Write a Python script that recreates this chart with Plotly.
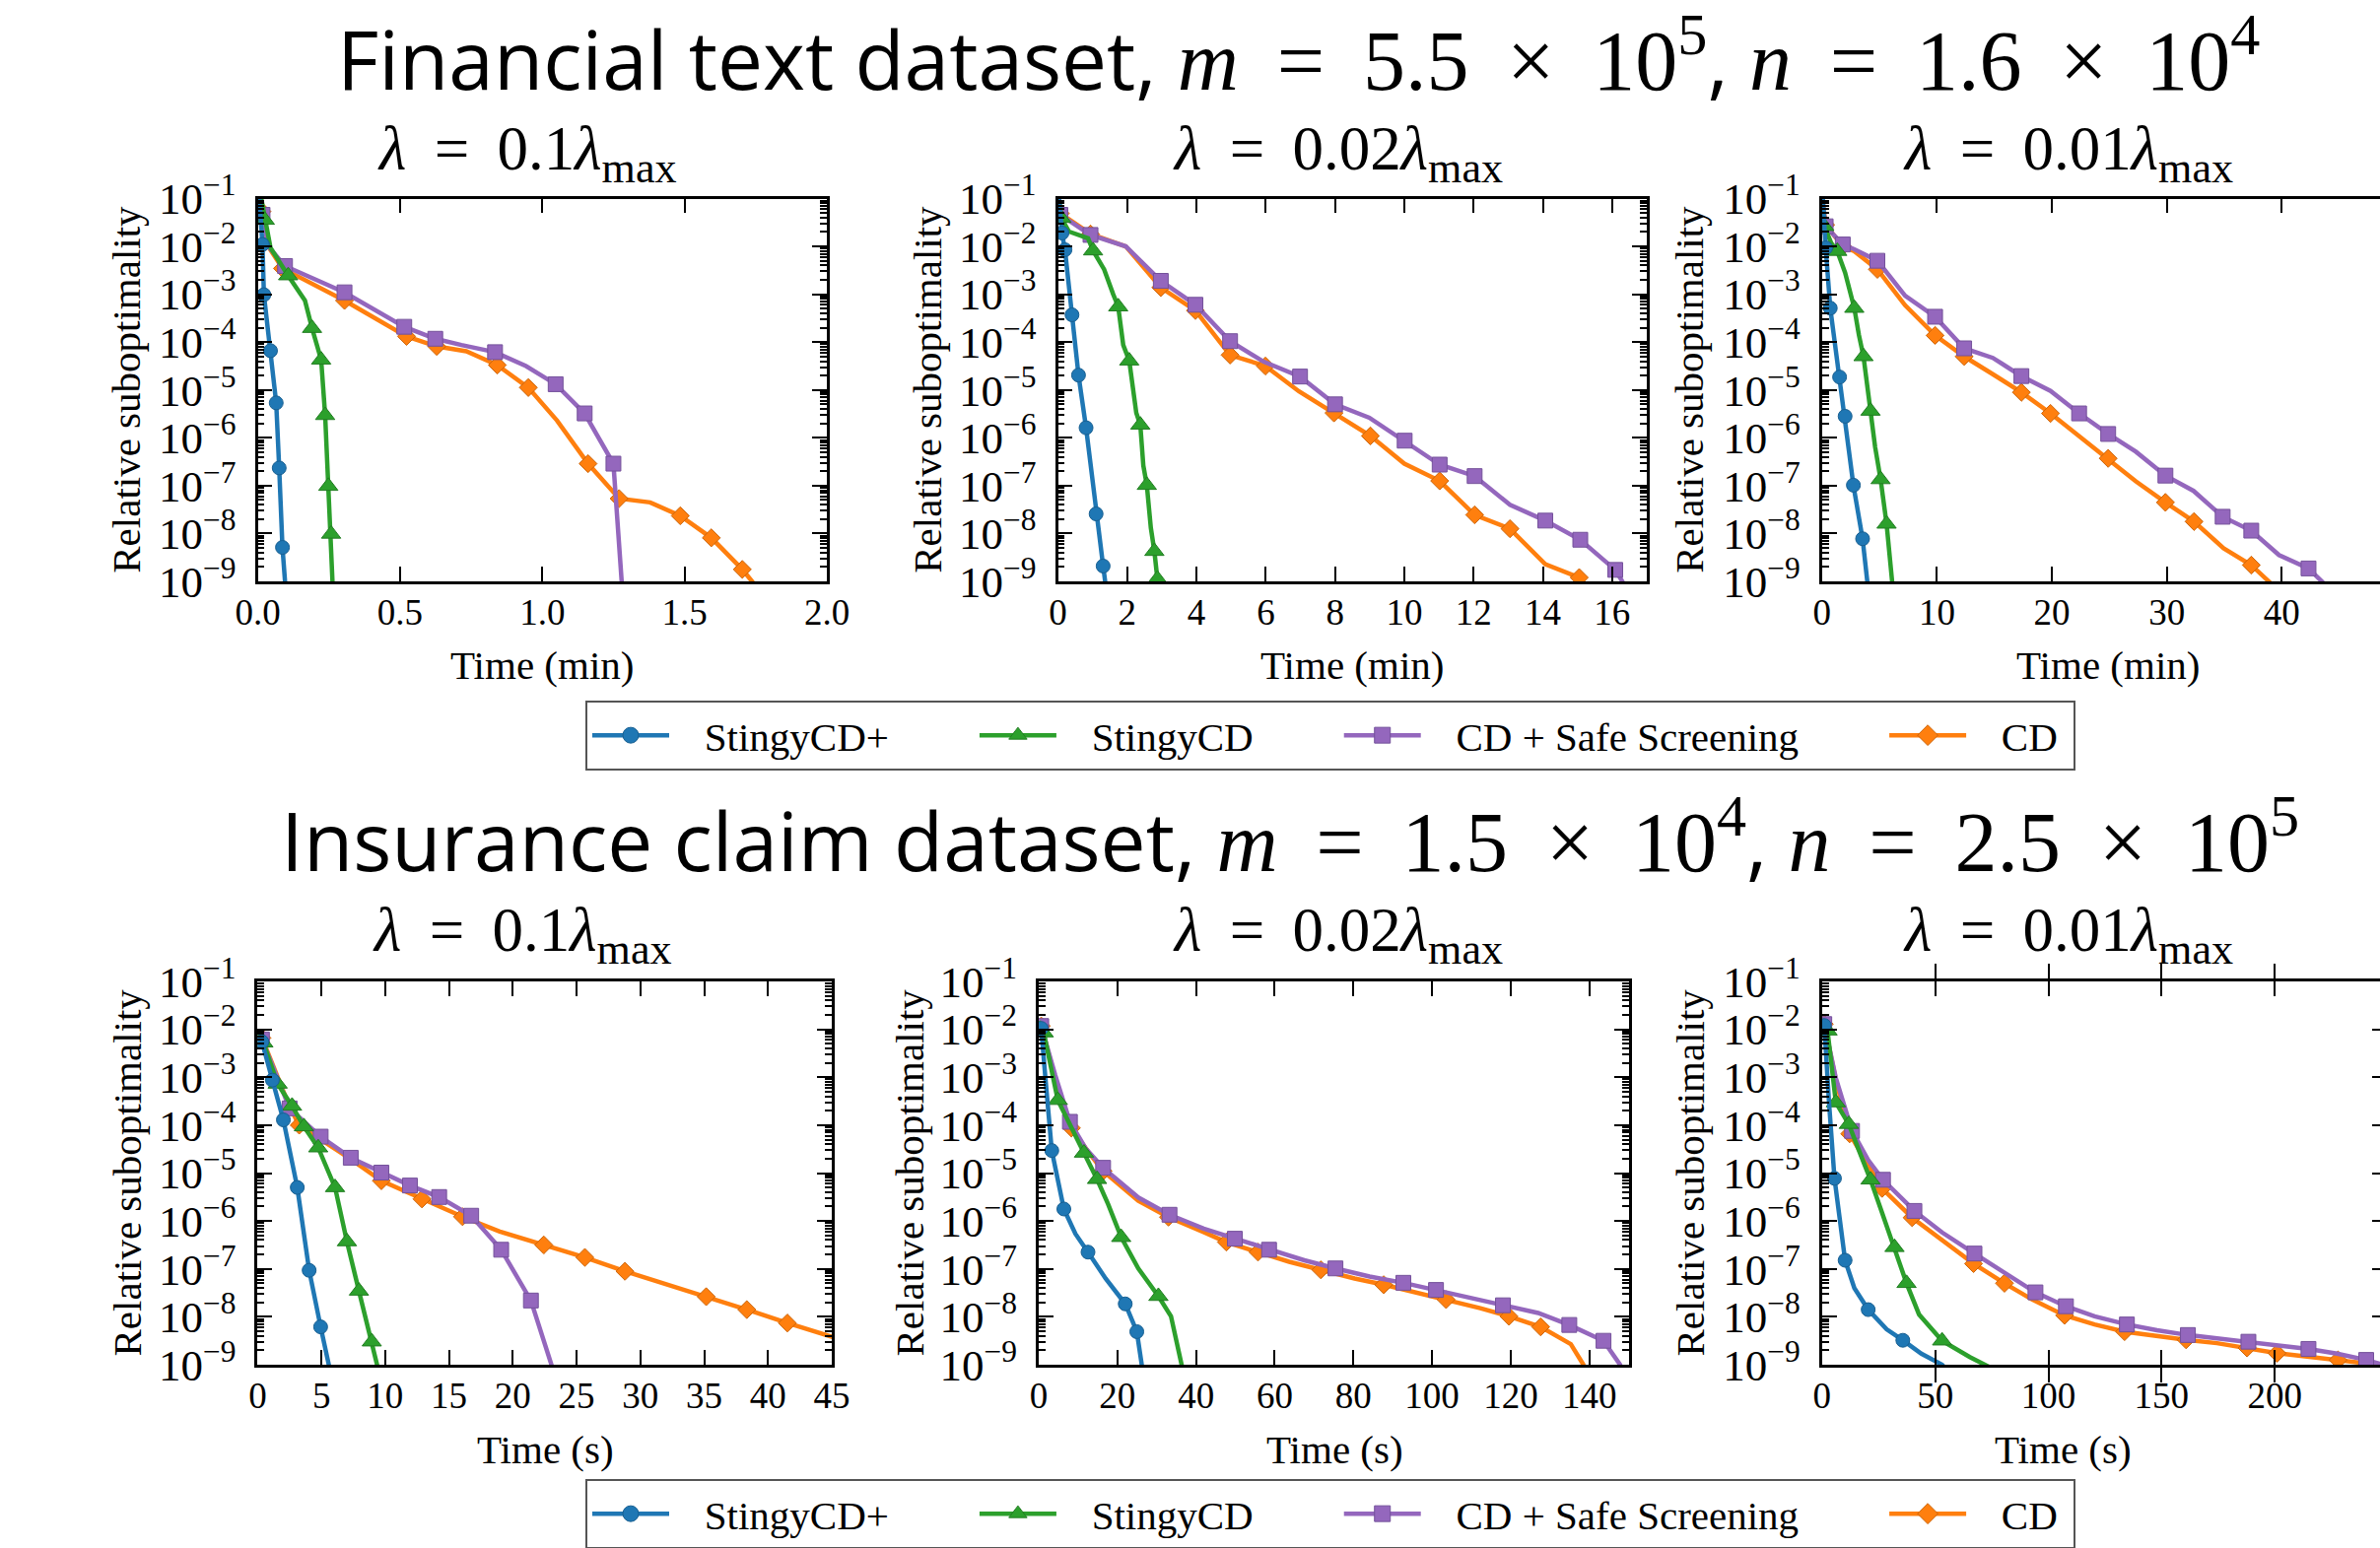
import plotly.graph_objects as go

# ---------------- data: log10(relative suboptimality) vs time ----------------
# panel keys: fa/fb/fc = Financial text (lambda 0.1/0.02/0.01), ia/ib/ic = Insurance claim
# methods: sp = StingyCD+, sc = StingyCD, ss = CD + Safe Screening, cd = CD
# *_mk = indices of the points that carry a marker

fa_sp_t = [0.0, 0.0168, 0.0218, 0.045, 0.065, 0.0755, 0.087, 0.096, 0.098]
fa_sp_y = [-0.5, -1.96, -3.01, -4.18, -5.27, -6.63, -8.29, -9.0, -9.3]
fa_sp_mk = [1, 2, 3, 4, 5, 6]
fa_sc_t = [0.0, 0.025, 0.045, 0.107, 0.166, 0.191, 0.213, 0.223, 0.237, 0.248, 0.258, 0.263, 0.265]
fa_sc_y = [-0.6, -1.45, -2.03, -2.61, -3.13, -3.71, -4.13, -4.37, -5.53, -7.01, -8.01, -9.0, -9.3]
fa_sc_mk = [1, 3, 5, 7, 8, 9, 10]
fa_ss_t = [0.0, 0.017, 0.037, 0.096, 0.305, 0.515, 0.624, 0.716, 0.834, 0.943, 1.047, 1.149, 1.250, 1.279, 1.283]
fa_ss_y = [-0.7, -1.34, -2.0, -2.41, -2.96, -3.68, -3.93, -4.06, -4.21, -4.50, -4.88, -5.49, -6.54, -9.0, -9.4]
fa_ss_mk = [1, 3, 4, 5, 6, 8, 10, 11, 12]
fa_cd_t = [0.0, 0.015, 0.037, 0.087, 0.305, 0.523, 0.629, 0.733, 0.842, 0.951, 1.052, 1.161, 1.270, 1.379, 1.485, 1.594, 1.703, 1.737, 1.75]
fa_cd_y = [-0.7, -1.27, -2.0, -2.46, -3.13, -3.88, -4.09, -4.19, -4.48, -4.95, -5.64, -6.54, -7.27, -7.35, -7.63, -8.09, -8.75, -9.0, -9.1]
fa_cd_mk = [1, 3, 4, 5, 6, 8, 9, 11, 12, 14, 15, 16]

fb_sp_t = [0.0, 0.116, 0.203, 0.406, 0.594, 0.812, 1.102, 1.305, 1.363, 1.375]
fb_sp_y = [-0.7, -1.72, -2.07, -3.43, -4.69, -5.79, -7.59, -8.68, -9.0, -9.1]
fb_sp_mk = [1, 2, 3, 4, 5, 6, 7]
fb_sc_t = [0.0, 0.10, 0.32, 0.87, 1.015, 1.334, 1.595, 1.74, 1.885, 2.059, 2.262, 2.378, 2.465, 2.566, 2.682, 2.784, 2.871, 2.90]
fb_sc_y = [-0.8, -1.41, -1.69, -1.83, -2.09, -2.48, -3.0, -3.26, -4.06, -4.39, -5.48, -5.73, -6.58, -6.99, -7.88, -8.37, -8.95, -9.06]
fb_sc_mk = [1, 4, 7, 9, 11, 13, 15, 16]
fb_ss_t = [0.0, 0.07, 0.94, 1.96, 2.97, 3.97, 4.97, 5.94, 6.99, 8.00, 8.99, 10.01, 11.02, 12.03, 13.05, 14.07, 15.08, 16.09, 16.31, 16.4]
fb_ss_y = [-0.9, -1.34, -1.76, -2.0, -2.72, -3.22, -3.98, -4.41, -4.72, -5.30, -5.58, -6.06, -6.56, -6.80, -7.40, -7.73, -8.13, -8.76, -9.02, -9.2]
fb_ss_mk = [1, 2, 4, 5, 6, 8, 9, 11, 12, 13, 15, 16, 17]
fb_cd_t = [0.0, 0.07, 0.94, 1.96, 2.97, 3.97, 4.97, 5.99, 6.96, 7.97, 9.02, 10.0, 11.02, 12.03, 13.05, 14.07, 15.05, 15.22]
fb_cd_y = [-0.9, -1.31, -1.74, -2.0, -2.86, -3.34, -4.27, -4.50, -5.03, -5.48, -5.96, -6.54, -6.90, -7.61, -7.90, -8.64, -8.92, -9.06]
fb_cd_mk = [1, 2, 4, 5, 6, 7, 9, 10, 12, 13, 14, 16]

fc_sp_t = [0.0, 0.32, 0.72, 1.20, 1.53, 2.01, 2.33, 2.73, 3.53, 3.94, 3.98]
fc_sp_y = [-0.7, -2.03, -3.29, -4.13, -4.73, -5.55, -6.25, -6.99, -8.11, -9.0, -9.1]
fc_sp_mk = [1, 2, 4, 5, 7, 8]
fc_sc_t = [0.0, 0.20, 0.80, 1.33, 2.01, 2.41, 2.81, 3.21, 3.61, 4.22, 4.62, 5.10, 5.62, 6.10, 6.14]
fc_sc_y = [-0.9, -1.58, -1.93, -2.10, -2.55, -2.96, -3.29, -3.85, -4.30, -5.44, -6.19, -6.87, -7.80, -9.0, -9.1]
fc_sc_mk = [1, 3, 6, 8, 9, 11, 12]
fc_ss_t = [0.0, 0.32, 1.81, 2.81, 4.82, 7.23, 9.84, 12.37, 14.86, 17.35, 19.88, 22.37, 24.90, 27.31, 29.88, 32.33, 34.86, 37.35, 39.76, 42.33, 43.57, 43.8]
fc_ss_y = [-0.95, -1.58, -1.96, -2.06, -2.30, -3.03, -3.47, -4.13, -4.33, -4.71, -5.02, -5.49, -5.92, -6.29, -6.79, -7.11, -7.65, -7.94, -8.45, -8.73, -9.02, -9.1]
fc_ss_mk = [1, 2, 4, 6, 7, 9, 11, 12, 14, 16, 17, 19]
fc_cd_t = [0.0, 0.32, 1.81, 2.81, 4.82, 7.23, 9.84, 12.37, 14.86, 17.35, 19.88, 22.49, 24.90, 27.31, 29.88, 32.37, 34.94, 37.35, 38.96, 39.1]
fc_cd_y = [-0.95, -1.55, -2.0, -2.10, -2.48, -3.23, -3.86, -4.30, -4.67, -5.05, -5.49, -5.98, -6.43, -6.91, -7.35, -7.75, -8.31, -8.66, -9.02, -9.1]
fc_cd_mk = [1, 2, 4, 6, 7, 9, 10, 12, 14, 15, 17]

ia_sp_t = [0.0, 0.34, 1.16, 2.02, 3.11, 4.04, 4.94, 5.62, 5.7]
ia_sp_y = [-2.14, -2.26, -3.06, -3.89, -5.30, -7.03, -8.21, -9.0, -9.15]
ia_sp_mk = [1, 2, 3, 4, 5, 6]
ia_sc_t = [0.0, 0.45, 1.57, 2.70, 3.63, 4.75, 6.07, 7.0, 7.94, 8.95, 9.43, 9.5]
ia_sc_y = [-2.08, -2.28, -3.14, -3.60, -4.03, -4.47, -5.30, -6.43, -7.46, -8.52, -9.0, -9.15]
ia_sc_mk = [1, 2, 3, 4, 5, 6, 7, 8, 9]
ia_ss_t = [0.0, 0.34, 2.51, 4.94, 7.30, 9.70, 11.94, 14.23, 16.74, 19.09, 21.42, 23.03, 23.1]
ia_ss_y = [-2.04, -2.21, -3.65, -4.24, -4.68, -4.99, -5.26, -5.50, -5.89, -6.60, -7.66, -9.0, -9.1]
ia_ss_mk = [1, 2, 3, 4, 5, 6, 7, 8, 9, 10]
ia_cd_t = [0.0, 0.34, 2.51, 3.26, 4.94, 7.30, 9.70, 12.88, 16.06, 18.98, 22.43, 25.65, 28.79, 32.09, 35.16, 38.34, 41.52, 45.0, 46.0]
ia_cd_y = [-2.04, -2.18, -3.62, -4.0, -4.30, -4.71, -5.16, -5.54, -5.91, -6.22, -6.50, -6.76, -7.05, -7.32, -7.58, -7.85, -8.13, -8.42, -8.5]
ia_cd_mk = [1, 3, 6, 7, 8, 10, 11, 12, 14, 15, 16]

ib_sp_t = [0.0, 0.64, 1.79, 3.32, 6.39, 9.34, 12.53, 17.0, 22.0, 24.94, 26.2, 26.4]
ib_sp_y = [-1.86, -1.98, -3.10, -4.53, -5.75, -6.27, -6.65, -7.20, -7.73, -8.31, -9.0, -9.1]
ib_sp_mk = [1, 3, 4, 6, 8, 9]
ib_sc_t = [0.0, 1.28, 4.86, 11.51, 14.83, 17.65, 20.97, 25.32, 30.43, 33.63, 36.45, 36.6]
ib_sc_y = [-1.83, -2.07, -3.48, -4.58, -5.13, -5.65, -6.34, -6.99, -7.57, -7.99, -9.0, -9.1]
ib_sc_mk = [1, 2, 3, 4, 6, 8]
ib_ss_t = [0.0, 0.64, 4.22, 7.93, 11.89, 16.37, 25.32, 33.25, 41.94, 49.87, 58.57, 67.52, 75.45, 84.14, 92.71, 101.02, 109.72, 118.03, 126.98, 134.91, 143.61, 147.83, 148.2]
ib_ss_y = [-1.83, -1.93, -2.96, -3.93, -4.48, -4.89, -5.51, -5.87, -6.16, -6.37, -6.60, -6.82, -6.99, -7.16, -7.29, -7.44, -7.61, -7.76, -7.92, -8.17, -8.50, -9.0, -9.1]
ib_ss_mk = [1, 3, 5, 7, 9, 10, 12, 14, 15, 17, 19, 20]
ib_cd_t = [0.0, 0.64, 4.22, 8.31, 12.53, 16.37, 25.32, 32.99, 41.94, 47.70, 55.75, 63.68, 71.74, 80.31, 87.72, 95.65, 103.58, 112.28, 119.57, 127.62, 135.29, 138.49, 138.8]
ib_cd_y = [-1.83, -1.93, -3.03, -4.06, -4.55, -4.96, -5.58, -5.92, -6.23, -6.44, -6.65, -6.85, -7.02, -7.20, -7.33, -7.49, -7.64, -7.82, -7.99, -8.21, -8.57, -9.0, -9.1]
ib_cd_mk = [1, 3, 5, 7, 9, 10, 12, 14, 16, 18, 19]

ic_sp_t = [0.0, 1.02, 3.06, 5.51, 10.2, 14.29, 20.41, 28.57, 35.71, 43.88, 53.06, 54.0]
ic_sp_y = [-1.82, -1.92, -3.50, -5.11, -6.82, -7.40, -7.85, -8.26, -8.49, -8.77, -9.0, -9.05]
ic_sp_mk = [1, 3, 4, 6, 8]
ic_sc_t = [0.0, 2.45, 6.12, 11.84, 16.33, 21.43, 26.53, 32.04, 37.35, 42.86, 48.98, 53.06, 65.31, 72.45, 74.0]
ic_sc_y = [-1.79, -2.03, -3.53, -3.98, -4.53, -5.14, -5.83, -6.55, -7.30, -7.95, -8.26, -8.50, -8.84, -9.0, -9.05]
ic_sc_mk = [1, 2, 3, 5, 7, 8, 11]
ic_ss_t = [0.0, 1.02, 6.12, 13.27, 20.41, 26.94, 40.82, 53.06, 67.35, 81.63, 94.29, 107.76, 120.41, 134.69, 147.96, 161.63, 174.49, 188.37, 202.04, 214.9, 227.55, 240.41, 255.0]
ic_ss_y = [-1.82, -1.89, -3.02, -4.12, -4.73, -5.14, -5.79, -6.24, -6.68, -7.10, -7.49, -7.78, -7.99, -8.16, -8.28, -8.38, -8.45, -8.52, -8.60, -8.67, -8.77, -8.90, -9.1]
ic_ss_mk = [1, 3, 5, 6, 8, 10, 11, 13, 15, 17, 19, 21]
ic_cd_t = [0.0, 1.02, 6.12, 12.24, 20.41, 26.53, 39.80, 53.06, 66.94, 80.61, 92.86, 107.14, 120.41, 133.67, 146.94, 160.82, 174.49, 187.76, 201.02, 214.29, 227.96, 240.82, 255.0]
ic_cd_y = [-1.82, -1.89, -3.05, -4.18, -4.84, -5.32, -5.93, -6.41, -6.89, -7.30, -7.64, -7.97, -8.16, -8.31, -8.40, -8.48, -8.55, -8.65, -8.76, -8.83, -8.90, -8.95, -9.05]
ic_cd_mk = [1, 3, 5, 6, 8, 9, 11, 13, 15, 17, 18, 20]

method_names = ["StingyCD+", "StingyCD", "CD + Safe Screening", "CD"]
panel_titles = ["0.1", "0.02", "0.01", "0.1", "0.02", "0.01"]
x_titles = ["Time (min)"] * 3 + ["Time (s)"] * 3

# ---------------- styling ----------------
COLORS = ["#1f77b4", "#2ca02c", "#9467bd", "#ff7f0e"]
EDGES = ["#185f91", "#227d22", "#74519a", "#cc650b"]
SYMBOLS = ["circle", "triangle-up", "square", "diamond"]
MSIZES = [14, 17, 15, 14]
LW = 4.5
SERIF = "Liberation Serif"
NB = "\u00a0"
TS = "\u2009"

panels = [
    [(fa_sp_t, fa_sp_y, fa_sp_mk), (fa_sc_t, fa_sc_y, fa_sc_mk), (fa_ss_t, fa_ss_y, fa_ss_mk), (fa_cd_t, fa_cd_y, fa_cd_mk)],
    [(fb_sp_t, fb_sp_y, fb_sp_mk), (fb_sc_t, fb_sc_y, fb_sc_mk), (fb_ss_t, fb_ss_y, fb_ss_mk), (fb_cd_t, fb_cd_y, fb_cd_mk)],
    [(fc_sp_t, fc_sp_y, fc_sp_mk), (fc_sc_t, fc_sc_y, fc_sc_mk), (fc_ss_t, fc_ss_y, fc_ss_mk), (fc_cd_t, fc_cd_y, fc_cd_mk)],
    [(ia_sp_t, ia_sp_y, ia_sp_mk), (ia_sc_t, ia_sc_y, ia_sc_mk), (ia_ss_t, ia_ss_y, ia_ss_mk), (ia_cd_t, ia_cd_y, ia_cd_mk)],
    [(ib_sp_t, ib_sp_y, ib_sp_mk), (ib_sc_t, ib_sc_y, ib_sc_mk), (ib_ss_t, ib_ss_y, ib_ss_mk), (ib_cd_t, ib_cd_y, ib_cd_mk)],
    [(ic_sp_t, ic_sp_y, ic_sp_mk), (ic_sc_t, ic_sc_y, ic_sc_mk), (ic_ss_t, ic_ss_y, ic_ss_mk), (ic_cd_t, ic_cd_y, ic_cd_mk)],
]

W, H = 2415, 1571
# pixel boxes of each axes (left, right, top, bottom)
boxes = [
    (261.5, 839.0, 201.5, 590.0),
    (1073.5, 1671.0, 201.5, 590.0),
    (1848.8, 2415.0, 201.5, 590.0),
    (261.4, 844.0, 996.0, 1385.0),
    (1054.0, 1652.6, 996.0, 1385.0),
    (1848.8, 2415.0, 996.0, 1385.0),
]
x_ranges = [[0, 2.0], [0, 17], [0, 48.55], [0, 45], [0, 150], [0, 246.5]]
x_dticks = [0.5, 2, 10, 5, 20, 50]
x_formats = [".1f", "d", "d", "d", "d", "d"]

fig = go.Figure()

# legend entries (in legend order)
for lg, xa, ya in [("legend", "x", "y"), ("legend2", "x4", "y4")]:
    for m in range(4):
        label = NB * 3 + method_names[m] + (NB * 8 if m < 3 else NB)
        fig.add_trace(go.Scatter(
            x=[None], y=[None], mode="lines+markers", name=label,
            line=dict(color=COLORS[m], width=LW),
            marker=dict(symbol=SYMBOLS[m], size=MSIZES[m] + 2, color=COLORS[m],
                        line=dict(color=EDGES[m], width=1)),
            legend=lg, xaxis=xa, yaxis=ya, showlegend=True))

for p, series in enumerate(panels):
    xa = "x" if p == 0 else f"x{p+1}"
    ya = "y" if p == 0 else f"y{p+1}"
    for m in [3, 2, 1, 0]:
        t, ly, mk = series[m]
        y = [10 ** v for v in ly]
        fig.add_trace(go.Scatter(
            x=t, y=y, mode="lines", line=dict(color=COLORS[m], width=LW),
            xaxis=xa, yaxis=ya, showlegend=False, hoverinfo="skip"))
        fig.add_trace(go.Scatter(
            x=[t[k] for k in mk], y=[y[k] for k in mk], mode="markers",
            marker=dict(symbol=SYMBOLS[m], size=MSIZES[m], color=COLORS[m],
                        line=dict(color=EDGES[m], width=1)),
            xaxis=xa, yaxis=ya, showlegend=False, hoverinfo="skip"))

# invisible helper trace for the right-edge tick stubs of the cut-off last panel
fig.add_trace(go.Scatter(x=[None], y=[None], xaxis="x6", yaxis="y7", showlegend=False, hoverinfo="skip"))

layout = dict(
    width=W, height=H, margin=dict(l=0, r=0, t=0, b=0, autoexpand=False),
    paper_bgcolor="white", plot_bgcolor="white", hovermode=False,
    font=dict(family=SERIF, color="black"),
)

for p, (l, r, tp, bt) in enumerate(boxes):
    xkey = "xaxis" if p == 0 else f"xaxis{p+1}"
    ykey = "yaxis" if p == 0 else f"yaxis{p+1}"
    xa = "x" if p == 0 else f"x{p+1}"
    ya = "y" if p == 0 else f"y{p+1}"
    cut = p in (2, 5)
    layout[xkey] = dict(
        domain=[l / W, r / W], anchor=ya, range=x_ranges[p], dtick=x_dticks[p], tick0=0,
        tickformat=x_formats[p], showline=True, linecolor="black", linewidth=2.5,
        mirror="allticks", ticks="inside", ticklen=15, tickwidth=2, tickcolor="black",
        showgrid=False, zeroline=False, ticklabelstandoff=-3, automargin=False,
        tickfont=dict(family=SERIF, size=37, color="black"))
    layout[ykey] = dict(
        domain=[1 - bt / H, 1 - tp / H], anchor=xa, type="log", range=[-9, -1], dtick=1,
        exponentformat="power", showexponent="all",
        showline=True, linecolor="black", linewidth=2.5, automargin=False,
        mirror=False if cut else "allticks", ticks="inside", ticklen=15, tickwidth=2,
        tickcolor="black", showgrid=False, zeroline=False, ticklabelstandoff=12,
        minor=dict(ticks="inside", ticklen=7, tickwidth=1.5, tickcolor="black", dtick="D1", showgrid=False),
        tickfont=dict(family=SERIF, size=36, color="black"))

l6, r6, t6, b6 = boxes[5]
layout["yaxis7"] = dict(
    domain=[1 - b6 / H, 1 - t6 / H], overlaying="y6", side="right", anchor="free", position=1.0,
    type="log", range=[-9, -1], dtick=1, ticks="inside", ticklen=8, tickwidth=2,
    tickcolor="black", showticklabels=False, showline=False, showgrid=False, zeroline=False,
    automargin=False)

legend_common = dict(
    orientation="h", xanchor="center", yanchor="top", bgcolor="white",
    bordercolor="#555555", borderwidth=2, itemwidth=78, traceorder="normal",
    font=dict(family=SERIF, size=41, color="black"))
layout["legend"] = dict(x=1350 / W, y=1 - 711 / H, **legend_common)
layout["legend2"] = dict(x=1350 / W, y=1 - 1501 / H, **legend_common)

ann = []
sp_open = f"<span style='font-family:{SERIF};font-size:86px'>"


def math_eq(var, mant, expo):
    return (sp_open + f"<i>{var}</i>{TS} ={TS} {mant}{TS} ×{TS} 10<sup>{expo}</sup></span>")


ann.append(dict(
    text="Financial text dataset, " + math_eq("m", "5.5", 5) + ", " + math_eq("n", "1.6", 4),
    x=1317 / W, y=1 - 58 / H, xref="paper", yref="paper", xanchor="center", yanchor="middle",
    showarrow=False, font=dict(family="Open Sans", size=82, color="black")))
ann.append(dict(
    text="Insurance claim dataset, " + math_eq("m", "1.5", 4) + ", " + math_eq("n", "2.5", 5),
    x=1309 / W, y=1 - 851 / H, xref="paper", yref="paper", xanchor="center", yanchor="middle",
    showarrow=False, font=dict(family="Open Sans", size=82, color="black")))

sub_x = [535, 1357, 2098, 530, 1357, 2098]
sub_y = [156, 156, 156, 949, 949, 949]
xt_x = [550, 1372, 2139, 553, 1354, 2093]
xt_y = [675, 675, 675, 1471, 1471, 1471]
yt_x = [128, 941, 1714, 128, 922, 1714]
for p in range(6):
    l, r, tp, bt = boxes[p]
    ann.append(dict(
        text=f"<i>λ</i>{TS} ={TS} {panel_titles[p]}<i>λ</i><sub>max</sub>",
        x=sub_x[p] / W, y=1 - sub_y[p] / H, xref="paper", yref="paper",
        xanchor="center", yanchor="middle", showarrow=False,
        font=dict(family=SERIF, size=63, color="black")))
    ann.append(dict(
        text=x_titles[p], x=xt_x[p] / W, y=1 - xt_y[p] / H, xref="paper", yref="paper",
        xanchor="center", yanchor="middle", showarrow=False,
        font=dict(family=SERIF, size=41, color="black")))
    ann.append(dict(
        text="Relative suboptimality", x=yt_x[p] / W, y=1 - ((tp + bt) / 2) / H,
        xref="paper", yref="paper", xanchor="center", yanchor="middle", textangle=-90,
        showarrow=False, font=dict(family=SERIF, size=41, color="black")))
layout["annotations"] = ann

fig.update_layout(**layout)
fig.write_html("out.html", config={"displayModeBar": False},
               post_script="document.body.style.margin='0';document.body.style.overflow='hidden';")
